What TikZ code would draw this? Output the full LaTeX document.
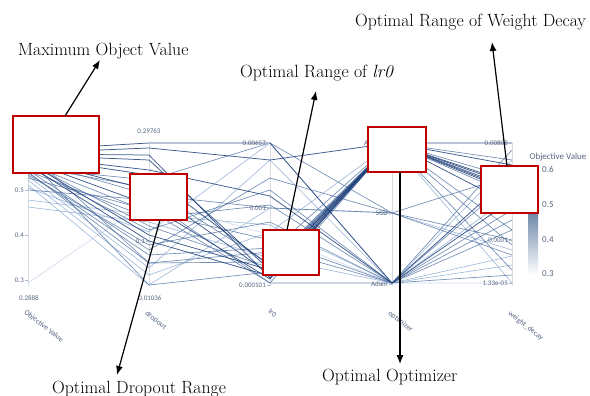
\documentclass[tikz,border=0pt]{standalone}
\usepackage{fontspec}
\newfontfamily\plotfont{Carlito}
\usetikzlibrary{arrows.meta}
\definecolor{boxred}{RGB}{192,0,0}
\definecolor{pcdark}{RGB}{30,62,120}
\definecolor{pcmid}{RGB}{78,112,162}
\definecolor{pclight}{RGB}{140,170,210}
\definecolor{pcfaint}{RGB}{205,218,236}
\definecolor{axgray}{RGB}{214,219,228}
\definecolor{ticktext}{RGB}{88,104,132}
\definecolor{cbtop}{RGB}{8,48,107}
\definecolor{cbmid}{RGB}{66,146,198}
\newcommand\pcpath[6]{\draw[#1] (28,#2) -- (149,#3) -- (270,#4) -- (392,#5) -- (512,#6);}
\begin{document}
\begin{tikzpicture}[x=1pt,y=-1pt,
  pcd/.style={pcdark,line width=0.75pt,opacity=0.85},
  pcm/.style={pcmid,line width=0.65pt,opacity=0.8},
  pcl/.style={pclight,line width=0.65pt,opacity=0.8},
  pcf/.style={pcfaint,line width=0.6pt},
  axisline/.style={axgray,line width=0.8pt},
  ticklab/.style={font=\plotfont\fontsize{7}{8}\selectfont,text=ticktext,inner sep=1pt},
  axlab/.style={font=\plotfont\fontsize{7.5}{8}\selectfont,text=ticktext,rotate=-38,anchor=north west,inner sep=0pt},
  cblab/.style={font=\plotfont\fontsize{9}{10}\selectfont,text=ticktext,inner sep=0pt},
  redbox/.style={draw=boxred,line width=2pt,fill=white,inner sep=0pt},
  anntext/.style={font=\rmfamily\fontsize{17.7}{19}\selectfont,inner sep=0pt},
  annarrow/.style={line width=1.2pt,-{Latex[length=9pt,width=7pt]}}]
\useasboundingbox (0,0) rectangle (590,396);
\clip (0,0) rectangle (590,396);
\fill[white] (0,0) rectangle (590,396);
% axes
\foreach \ax in {28,149,270,392,512}{\draw[axisline] (\ax,143) -- (\ax,286);}
% polylines
\pcpath{pcf}{283}{200}{235}{283}{283}
\pcpath{pcl}{207}{222}{258}{283}{265}
\pcpath{pcl}{185}{285}{208}{213}{250}
\pcpath{pcl}{180}{275}{232}{143}{283}
\pcpath{pcl}{200}{215}{225}{283}{160}
\pcpath{pcl}{176}{268}{160}{283}{195}
\pcpath{pcl}{188}{232}{143}{283}{256}
\pcpath{pcm}{190}{200}{283}{283}{230}
\pcpath{pcm}{163}{226}{268}{143}{195}
\pcpath{pcm}{152}{263}{262}{143}{178}
\pcpath{pcm}{158}{285}{272}{143}{160}
\pcpath{pcm}{160}{195}{208}{213}{240}
\pcpath{pcm}{164}{212}{240}{283}{150}
\pcpath{pcm}{167}{230}{190}{283}{210}
\pcpath{pcm}{170}{250}{178}{213}{255}
\pcpath{pcm}{172}{263}{252}{143}{245}
\pcpath{pcm}{175}{245}{222}{283}{275}
\pcpath{pcm}{168}{180}{143}{213}{175}
\pcpath{pcm}{178}{210}{283}{143}{270}
\pcpath{pcm}{173}{255}{248}{283}{220}
\pcpath{pcm}{166}{188}{264}{143}{230}
\pcpath{pcm}{171}{218}{205}{283}{180}
\pcpath{pcd}{150}{143}{143}{283}{175}
\pcpath{pcd}{153}{148}{160}{143}{143}
\pcpath{pcd}{155}{160}{270}{143}{185}
\pcpath{pcd}{157}{175}{266}{143}{188}
\pcpath{pcd}{159}{190}{274}{143}{190}
\pcpath{pcd}{161}{205}{279}{143}{192}
\pcpath{pcd}{165}{241}{276}{143}{183}
\pcpath{pcd}{156}{170}{196}{283}{200}
\pcpath{pcd}{162}{235}{270}{143}{205}
\pcpath{pcd}{154}{155}{278}{143}{165}
% ticks
\foreach \ax/\yy in {28/190,28/235,28/280,149/241,270/143,270/208,270/285,392/143,392/213,392/284,512/143,512/240,512/283}{\draw[axgray!70!ticktext,line width=0.5pt] (\ax-3,\yy) -- (\ax,\yy);}
% tick labels
\node[ticklab,anchor=east] (o5) at (25,190) {0.5};
\node[ticklab,anchor=east] (o4) at (25,235) {0.4};
\node[ticklab,anchor=east] (o3) at (25,280) {0.3};
\node[ticklab] (omin) at (29,298) {0.2888};
\node[ticklab] (dmax) at (149,131) {0.29763};
\node[ticklab,anchor=east] (d1) at (146,241) {0.1};
\node[ticklab] (dmin) at (150,298) {0.01036};
\node[ticklab,anchor=east] (l1) at (267,143) {0.00657};
\node[ticklab,anchor=east] (l2) at (267,208) {0.001};
\node[ticklab,anchor=east] (l3) at (267,285) {0.000101};
\node[ticklab,anchor=west] (p1) at (363,143) {A};
\node[ticklab,anchor=east] (p2) at (389,213) {SGD};
\node[ticklab,anchor=east] (p3) at (389,284) {Adam};
\node[ticklab,anchor=east] (w1) at (509,143) {0.00808};
\node[ticklab,anchor=east] (w2) at (509,240) {0.0001};
\node[ticklab,anchor=east] (w3) at (509,283) {1.33e-05};
% axis labels
\node[axlab] (ax1) at (27,309) {Objective Value};
\node[axlab] (ax2) at (148,310) {dropout};
\node[axlab] (ax3) at (271,308) {lr0};
\node[axlab] (ax4) at (391,310) {optimizer};
\node[axlab] (ax5) at (511,310) {weight\_decay};
% colorbar
\shade[top color=cbtop,middle color=cbmid,bottom color=white] (528,168) rectangle (538,275);
\node[cblab] (cbt) at (558,157) {Objective Value};
\node[cblab,anchor=west] (c6) at (542,169) {0.6};
\node[cblab,anchor=west] (c5) at (542,205) {0.5};
\node[cblab,anchor=west] (c4) at (542,240) {0.4};
\node[cblab,anchor=west] (c3) at (542,274) {0.3};
% red boxes
\node[redbox,minimum width=86pt,minimum height=57pt] (b1) at (56,144.5) {};
\node[redbox,minimum width=57pt,minimum height=46pt] (b2) at (158.5,197) {};
\node[redbox,minimum width=56pt,minimum height=45pt] (b3) at (291,252.5) {};
\node[redbox,minimum width=58pt,minimum height=45pt] (b4) at (397,149.5) {};
\node[redbox,minimum width=57pt,minimum height=46pt] (b5) at (509.5,189.5) {};
% annotation texts
\node[anntext,anchor=base west] (tmax) at (18,56) {Maximum Object Value};
\node[anntext,anchor=base west] (tlr) at (240,78) {Optimal Range of \textit{lr0}};
\node[anntext,anchor=base west] (twd) at (355,27) {Optimal Range of Weight Decay};
\node[anntext,anchor=base west] (tdr) at (52,393) {Optimal Dropout Range};
\node[anntext,anchor=base west] (top) at (322,381) {Optimal Optimizer};
% arrows
\coordinate (s1) at (65,116);
\coordinate (e1) at (100,60);
\coordinate (s2) at (160,220);
\coordinate (e2) at (117,375);
\coordinate (s3) at (287,230);
\coordinate (e3) at (316,91);
\coordinate (s4) at (400,172);
\coordinate (e4) at (400,364);
\coordinate (s5) at (507,166);
\coordinate (e5) at (492,42);
\draw[annarrow] (s1) -- (e1);
\draw[annarrow] (s2) -- (e2);
\draw[annarrow] (s3) -- (e3);
\draw[annarrow] (s4) -- (e4);
\draw[annarrow] (s5) -- (e5);
\end{tikzpicture}
\end{document}
